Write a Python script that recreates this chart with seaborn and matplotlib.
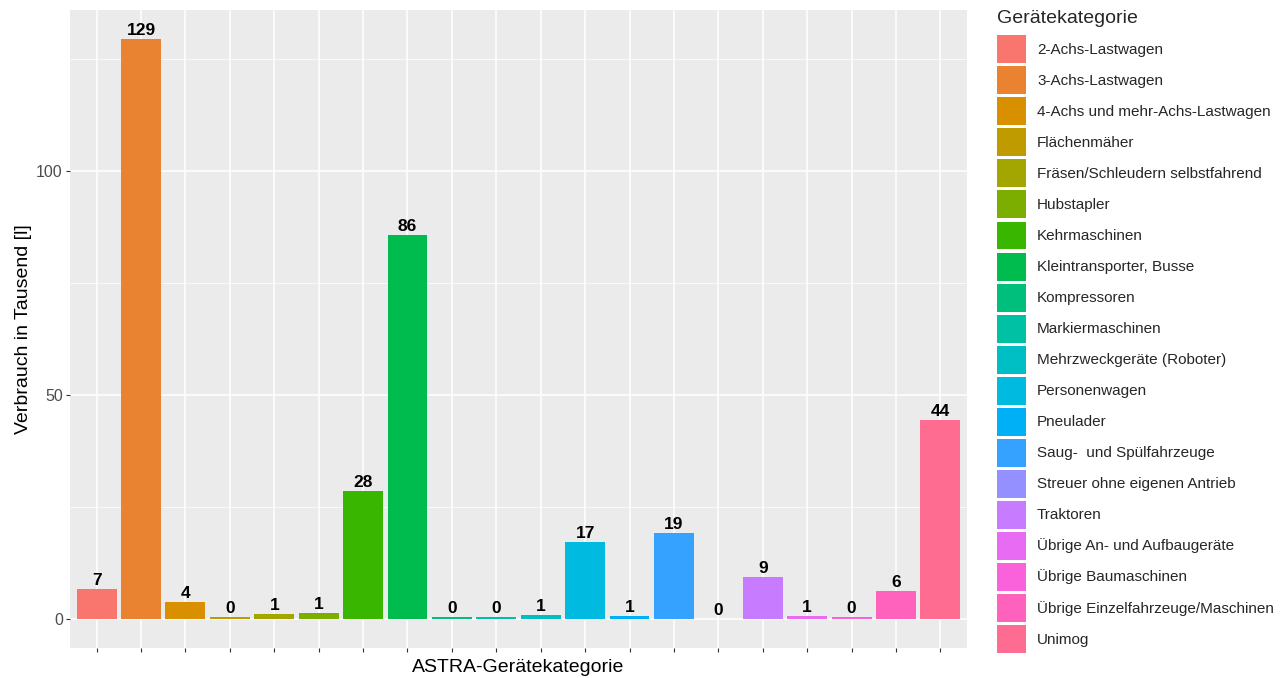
import matplotlib
matplotlib.use("Agg")
import matplotlib.pyplot as plt
import seaborn as sns
import pandas as pd
from matplotlib.patches import Patch
from matplotlib.ticker import FixedLocator

categories = [
    "2-Achs-Lastwagen", "3-Achs-Lastwagen", "4-Achs und mehr-Achs-Lastwagen",
    "Flächenmäher", "Fräsen/Schleudern selbstfahrend", "Hubstapler",
    "Kehrmaschinen", "Kleintransporter, Busse", "Kompressoren",
    "Markiermaschinen", "Mehrzweckgeräte (Roboter)", "Personenwagen",
    "Pneulader", "Saug-  und Spülfahrzeuge", "Streuer ohne eigenen Antrieb",
    "Traktoren", "Übrige An- und Aufbaugeräte", "Übrige Baumaschinen",
    "Übrige Einzelfahrzeuge/Maschinen", "Unimog",
]
values = [6.7, 129.4, 3.7, 0.4, 1.05, 1.27, 28.5, 85.7, 0.4, 0.35,
          0.9, 17.2, 0.7, 19.2, 0.05, 9.3, 0.7, 0.4, 6.2, 44.3]
bar_labels = ["7", "129", "4", "0", "1", "1", "28", "86", "0", "0",
              "1", "17", "1", "19", "0", "9", "1", "0", "6", "44"]
colors = ["#F8766D", "#EA8331", "#D89000", "#C09B00", "#A3A500", "#7CAE00",
          "#39B600", "#00BB4E", "#00BF7D", "#00C1A3", "#00BFC4", "#00BAE0",
          "#00B0F6", "#35A2FF", "#9590FF", "#C77CFF", "#E76BF3", "#FA62DB",
          "#FF62BC", "#FF6C91"]
y_ticks = [0, 50, 100]
y_minor = [25, 75, 125]

sns.set_theme(style="darkgrid", rc={
    "axes.facecolor": "#EBEBEB",
    "grid.color": "white",
    "axes.edgecolor": "#EBEBEB",
})
plt.rcParams["font.family"] = ["Liberation Sans", "DejaVu Sans"]

df = pd.DataFrame({"cat": categories, "val": values})

W, H = 1287, 678
fig = plt.figure(figsize=(W / 100, H / 100), dpi=100)
ax = fig.add_axes([70 / W, 1 - 648 / H, (967 - 70) / W, (648 - 10) / H])

sns.barplot(data=df, x="cat", y="val", hue="cat", order=categories,
            hue_order=categories, palette=colors, width=0.9, linewidth=0,
            legend=False, ax=ax, saturation=1)

for cont, lab in zip(ax.containers, bar_labels):
    ax.bar_label(cont, labels=[lab], padding=0.8, fontsize=12.5,
                 fontweight="bold", color="black")

vmax = max(values)
ax.set_ylim(-0.05 * vmax, 1.05 * vmax)
ax.set_xlim(-0.6, len(categories) - 0.4)

ax.yaxis.set_major_locator(FixedLocator(y_ticks))
ax.yaxis.set_minor_locator(FixedLocator(y_minor))
ax.grid(which="major", color="white", linewidth=1.1)
ax.grid(which="minor", axis="y", color="white", linewidth=0.55)
ax.set_axisbelow(True)
for s in ax.spines.values():
    s.set_visible(False)

ax.set_xticks(range(len(categories)))
ax.set_xticklabels([""] * len(categories))
ax.tick_params(axis="both", which="major", length=3.2, width=0.8,
               color="#333333", labelsize=11.5, labelcolor="#4D4D4D", pad=2,
               bottom=True, left=True)
ax.tick_params(axis="y", which="minor", length=0)

ax.set_xlabel("ASTRA-Gerätekategorie", fontsize=14, color="black", labelpad=3)
ax.set_ylabel("Verbrauch in Tausend [l]", fontsize=14, color="black", labelpad=3)

handles = [Patch(facecolor=c, edgecolor="none", label=l)
           for c, l in zip(colors, categories)]
leg = fig.legend(handles=handles, loc="upper left",
                 bbox_to_anchor=(997 / W, 1 - 10 / H),
                 title="Gerätekategorie", title_fontsize=14, fontsize=11,
                 frameon=False, borderpad=0, borderaxespad=0,
                 handleheight=2.44, handlelength=1.9, handletextpad=0.72,
                 labelspacing=0.2)
leg._legend_box.align = "left"
leg._legend_box.sep = 6

fig.savefig("out.png", dpi=100)
